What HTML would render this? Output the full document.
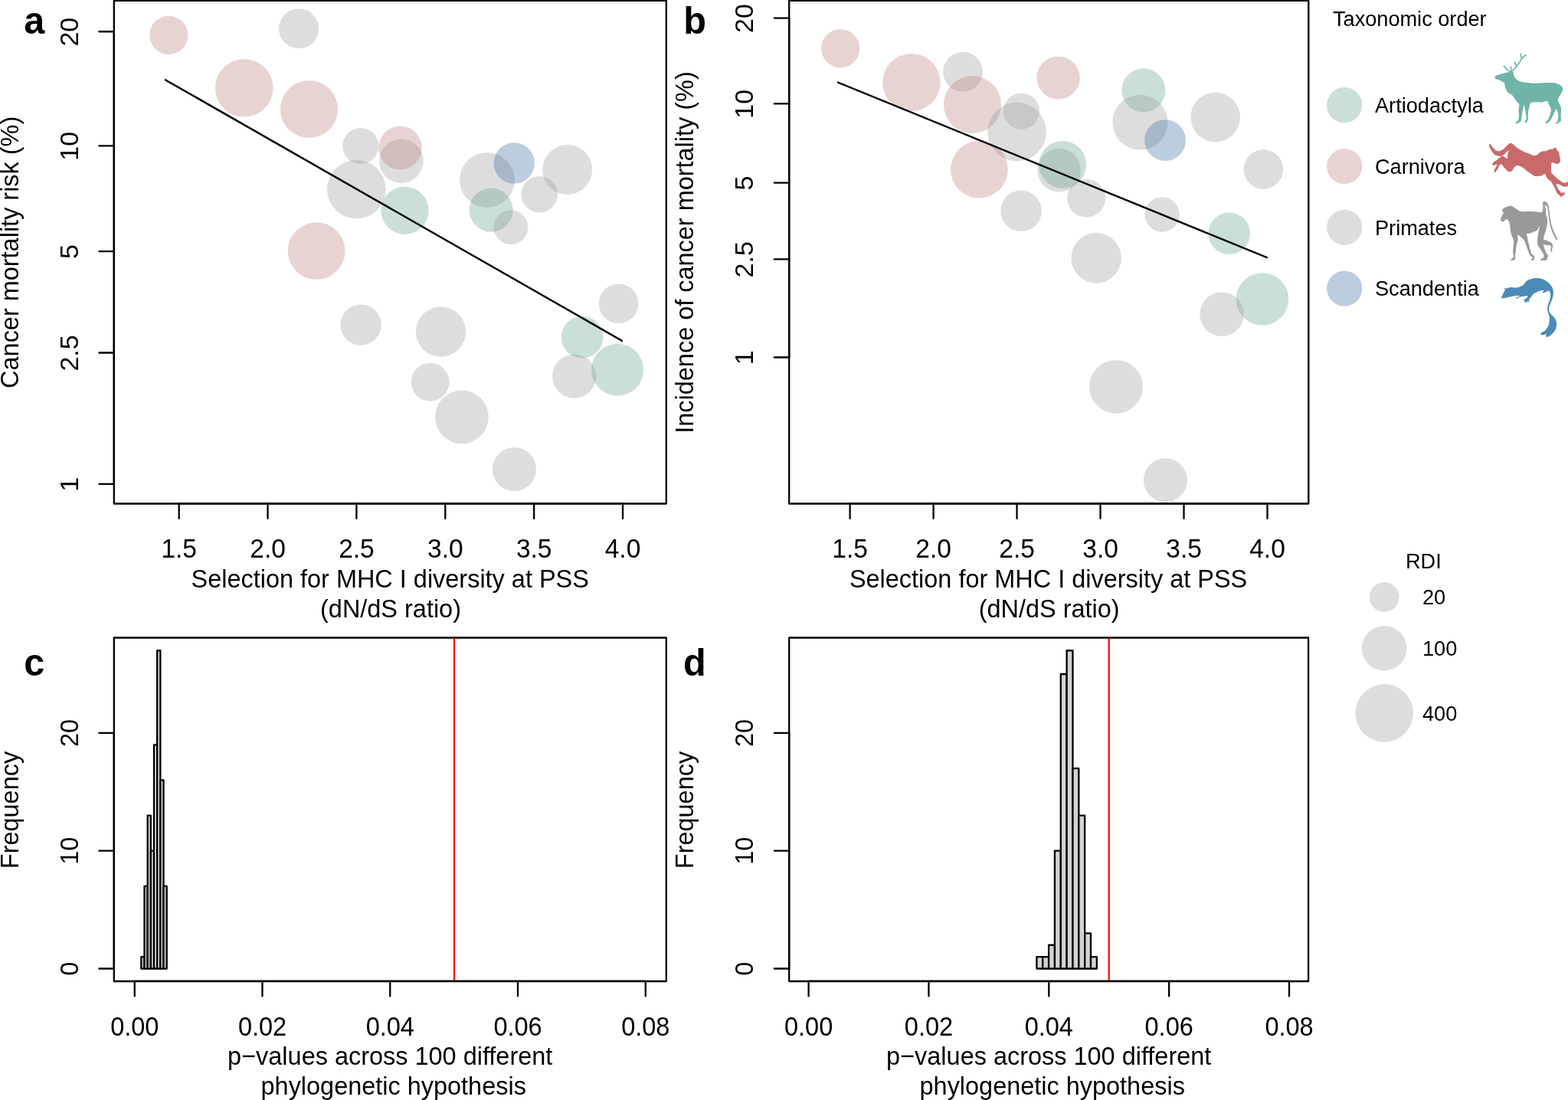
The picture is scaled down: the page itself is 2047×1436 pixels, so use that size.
<!DOCTYPE html>
<html lang="en"><head><meta charset="utf-8"><title>Figure: MHC I diversity and cancer mortality</title>
<style>html,body{margin:0;padding:0;background:#fff}body{width:2047px;height:1436px;overflow:hidden}svg{display:block}text{font-family:'Liberation Sans', Arial, Helvetica, sans-serif;fill:#000}</style>
</head><body>
<svg width="2047" height="1436" viewBox="0 0 2047 1436">
<rect width="2047" height="1436" fill="#fff"/>
<g>
<circle cx="220.35" cy="45.9" r="25.15" fill="rgb(190,128,128)" fill-opacity="0.35"/>
<circle cx="390.06" cy="37.3" r="26" fill="rgb(158,158,158)" fill-opacity="0.35"/>
<circle cx="318.8" cy="114.8" r="37.8" fill="rgb(190,128,128)" fill-opacity="0.35"/>
<circle cx="403.5" cy="142.6" r="37.6" fill="rgb(190,128,128)" fill-opacity="0.35"/>
<circle cx="470.8" cy="190.5" r="23.6" fill="rgb(158,158,158)" fill-opacity="0.35"/>
<circle cx="524" cy="210.2" r="28.75" fill="rgb(158,158,158)" fill-opacity="0.35"/>
<circle cx="522.5" cy="193" r="28.3" fill="rgb(190,128,128)" fill-opacity="0.35"/>
<circle cx="465.3" cy="247.1" r="38.25" fill="rgb(158,158,158)" fill-opacity="0.35"/>
<circle cx="528.5" cy="274.8" r="31.1" fill="rgb(104,164,144)" fill-opacity="0.35"/>
<circle cx="413.1" cy="327.6" r="37.4" fill="rgb(190,128,128)" fill-opacity="0.35"/>
<circle cx="635.9" cy="234.9" r="36" fill="rgb(158,158,158)" fill-opacity="0.35"/>
<circle cx="671.2" cy="213" r="26.7" fill="rgb(70,116,166)" fill-opacity="0.36"/>
<circle cx="641.15" cy="274.1" r="28.6" fill="rgb(104,164,144)" fill-opacity="0.35"/>
<circle cx="666.9" cy="296.65" r="22.45" fill="rgb(158,158,158)" fill-opacity="0.35"/>
<circle cx="704.3" cy="253.7" r="23.8" fill="rgb(158,158,158)" fill-opacity="0.35"/>
<circle cx="740.7" cy="221.5" r="32.4" fill="rgb(158,158,158)" fill-opacity="0.35"/>
<circle cx="471.1" cy="424.1" r="26.7" fill="rgb(158,158,158)" fill-opacity="0.35"/>
<circle cx="575.5" cy="433.05" r="32.65" fill="rgb(158,158,158)" fill-opacity="0.35"/>
<circle cx="561.6" cy="498.8" r="24.9" fill="rgb(158,158,158)" fill-opacity="0.35"/>
<circle cx="602.9" cy="544.4" r="34.9" fill="rgb(158,158,158)" fill-opacity="0.35"/>
<circle cx="671.4" cy="612.6" r="28.6" fill="rgb(158,158,158)" fill-opacity="0.35"/>
<circle cx="807.5" cy="396.3" r="25.8" fill="rgb(158,158,158)" fill-opacity="0.35"/>
<circle cx="760.1" cy="440.3" r="27.3" fill="rgb(104,164,144)" fill-opacity="0.35"/>
<circle cx="749.6" cy="491.1" r="28.6" fill="rgb(158,158,158)" fill-opacity="0.35"/>
<circle cx="806.1" cy="482.7" r="34" fill="rgb(104,164,144)" fill-opacity="0.35"/>
<polygon points="215.1,102.39 812.85,443.89 812.85,446.71 215.1,105.21" fill="#000"/>
<rect x="148.8" y="0.9" width="721" height="656.6" fill="none" stroke="#000" stroke-width="2.3" stroke-linejoin="round"/>
<line x1="233.7" y1="657.3" x2="813" y2="657.3" stroke="#000" stroke-width="2.3" stroke-linecap="round"/>
<line x1="148.8" y1="41.25" x2="148.8" y2="631.95" stroke="#000" stroke-width="2.3" stroke-linecap="round"/>
<line x1="233.7" y1="657.5" x2="233.7" y2="676.9" stroke="#000" stroke-width="2.3" stroke-linecap="round"/>
<text transform="translate(233.7 728) scale(1 1.04)" font-size="33.5" text-anchor="middle">1.5</text>
<line x1="349.56" y1="657.5" x2="349.56" y2="676.9" stroke="#000" stroke-width="2.3" stroke-linecap="round"/>
<text transform="translate(349.56 728) scale(1 1.04)" font-size="33.5" text-anchor="middle">2.0</text>
<line x1="465.42" y1="657.5" x2="465.42" y2="676.9" stroke="#000" stroke-width="2.3" stroke-linecap="round"/>
<text transform="translate(465.42 728) scale(1 1.04)" font-size="33.5" text-anchor="middle">2.5</text>
<line x1="581.28" y1="657.5" x2="581.28" y2="676.9" stroke="#000" stroke-width="2.3" stroke-linecap="round"/>
<text transform="translate(581.28 728) scale(1 1.04)" font-size="33.5" text-anchor="middle">3.0</text>
<line x1="697.14" y1="657.5" x2="697.14" y2="676.9" stroke="#000" stroke-width="2.3" stroke-linecap="round"/>
<text transform="translate(697.14 728) scale(1 1.04)" font-size="33.5" text-anchor="middle">3.5</text>
<line x1="813" y1="657.5" x2="813" y2="676.9" stroke="#000" stroke-width="2.3" stroke-linecap="round"/>
<text transform="translate(813 728) scale(1 1.04)" font-size="33.5" text-anchor="middle">4.0</text>
<line x1="129.4" y1="41.25" x2="148.8" y2="41.25" stroke="#000" stroke-width="2.3" stroke-linecap="round"/>
<text transform="translate(102.1 41.65) rotate(-90) scale(1 1.0)" font-size="34.1" text-anchor="middle">20</text>
<line x1="129.4" y1="190.4" x2="148.8" y2="190.4" stroke="#000" stroke-width="2.3" stroke-linecap="round"/>
<text transform="translate(102.1 190.8) rotate(-90) scale(1 1.0)" font-size="34.1" text-anchor="middle">10</text>
<line x1="129.4" y1="328.2" x2="148.8" y2="328.2" stroke="#000" stroke-width="2.3" stroke-linecap="round"/>
<text transform="translate(102.1 328.6) rotate(-90) scale(1 1.0)" font-size="34.1" text-anchor="middle">5</text>
<line x1="129.4" y1="460.5" x2="148.8" y2="460.5" stroke="#000" stroke-width="2.3" stroke-linecap="round"/>
<text transform="translate(102.1 460.9) rotate(-90) scale(1 1.0)" font-size="34.1" text-anchor="middle">2.5</text>
<line x1="129.4" y1="631.95" x2="148.8" y2="631.95" stroke="#000" stroke-width="2.3" stroke-linecap="round"/>
<text transform="translate(102.1 632.35) rotate(-90) scale(1 1.0)" font-size="34.1" text-anchor="middle">1</text>
<text transform="translate(509.2 767) scale(1 1.03)" font-size="32.45" text-anchor="middle">Selection for MHC I diversity at PSS</text>
<text transform="translate(510 806) scale(1 1.03)" font-size="32.45" text-anchor="middle">(dN/dS ratio)</text>
<text transform="translate(24.3 329.3) rotate(-90) scale(1 1.03)" font-size="32.45" text-anchor="middle">Cancer mortality risk (%)</text>
<text transform="translate(31.2 43.9) scale(1 1.02)" font-size="48.6" text-anchor="start" font-weight="bold">a</text>
</g>
<g>
<circle cx="1097.2" cy="63.3" r="25.15" fill="rgb(190,128,128)" fill-opacity="0.35"/>
<circle cx="1189.9" cy="107.7" r="37.7" fill="rgb(190,128,128)" fill-opacity="0.35"/>
<circle cx="1257.1" cy="93.65" r="25.9" fill="rgb(158,158,158)" fill-opacity="0.35"/>
<circle cx="1269.5" cy="136.6" r="37.55" fill="rgb(190,128,128)" fill-opacity="0.35"/>
<circle cx="1381.65" cy="101.6" r="28.1" fill="rgb(190,128,128)" fill-opacity="0.35"/>
<circle cx="1333.4" cy="145.3" r="23.6" fill="rgb(158,158,158)" fill-opacity="0.35"/>
<circle cx="1327.6" cy="172.1" r="38.3" fill="rgb(158,158,158)" fill-opacity="0.35"/>
<circle cx="1278.4" cy="221.2" r="37.4" fill="rgb(190,128,128)" fill-opacity="0.35"/>
<circle cx="1492.9" cy="117.85" r="28.6" fill="rgb(104,164,144)" fill-opacity="0.35"/>
<circle cx="1488.4" cy="159.8" r="36.05" fill="rgb(158,158,158)" fill-opacity="0.35"/>
<circle cx="1521.1" cy="183.1" r="26.9" fill="rgb(70,116,166)" fill-opacity="0.36"/>
<circle cx="1586.7" cy="153.1" r="32.35" fill="rgb(158,158,158)" fill-opacity="0.35"/>
<circle cx="1382.7" cy="222.3" r="28.4" fill="rgb(158,158,158)" fill-opacity="0.35"/>
<circle cx="1387.2" cy="214.9" r="31" fill="rgb(104,164,144)" fill-opacity="0.35"/>
<circle cx="1333.1" cy="275.2" r="26.8" fill="rgb(158,158,158)" fill-opacity="0.35"/>
<circle cx="1418.2" cy="258.7" r="25" fill="rgb(158,158,158)" fill-opacity="0.35"/>
<circle cx="1517.1" cy="280" r="22.7" fill="rgb(158,158,158)" fill-opacity="0.35"/>
<circle cx="1649.45" cy="221.1" r="25.8" fill="rgb(158,158,158)" fill-opacity="0.35"/>
<circle cx="1604.8" cy="304.7" r="27.3" fill="rgb(104,164,144)" fill-opacity="0.35"/>
<circle cx="1431.2" cy="336.9" r="32.8" fill="rgb(158,158,158)" fill-opacity="0.35"/>
<circle cx="1648" cy="390.5" r="34.3" fill="rgb(104,164,144)" fill-opacity="0.35"/>
<circle cx="1595.1" cy="410.2" r="28.8" fill="rgb(158,158,158)" fill-opacity="0.35"/>
<circle cx="1457.05" cy="504.9" r="34.9" fill="rgb(158,158,158)" fill-opacity="0.35"/>
<circle cx="1521.4" cy="626.9" r="28.6" fill="rgb(158,158,158)" fill-opacity="0.35"/>
<polygon points="1093.1,105.98 1654.8,335.18 1654.8,337.82 1093.1,108.62" fill="#000"/>
<rect x="1030.2" y="0.9" width="678.1" height="656.6" fill="none" stroke="#000" stroke-width="2.3" stroke-linejoin="round"/>
<line x1="1109.6" y1="657.3" x2="1654.5" y2="657.3" stroke="#000" stroke-width="2.3" stroke-linecap="round"/>
<line x1="1030.2" y1="23.6" x2="1030.2" y2="466.5" stroke="#000" stroke-width="2.3" stroke-linecap="round"/>
<line x1="1109.6" y1="657.5" x2="1109.6" y2="676.9" stroke="#000" stroke-width="2.3" stroke-linecap="round"/>
<text transform="translate(1109.6 728) scale(1 1.04)" font-size="33.5" text-anchor="middle">1.5</text>
<line x1="1218.58" y1="657.5" x2="1218.58" y2="676.9" stroke="#000" stroke-width="2.3" stroke-linecap="round"/>
<text transform="translate(1218.58 728) scale(1 1.04)" font-size="33.5" text-anchor="middle">2.0</text>
<line x1="1327.56" y1="657.5" x2="1327.56" y2="676.9" stroke="#000" stroke-width="2.3" stroke-linecap="round"/>
<text transform="translate(1327.56 728) scale(1 1.04)" font-size="33.5" text-anchor="middle">2.5</text>
<line x1="1436.54" y1="657.5" x2="1436.54" y2="676.9" stroke="#000" stroke-width="2.3" stroke-linecap="round"/>
<text transform="translate(1436.54 728) scale(1 1.04)" font-size="33.5" text-anchor="middle">3.0</text>
<line x1="1545.52" y1="657.5" x2="1545.52" y2="676.9" stroke="#000" stroke-width="2.3" stroke-linecap="round"/>
<text transform="translate(1545.52 728) scale(1 1.04)" font-size="33.5" text-anchor="middle">3.5</text>
<line x1="1654.5" y1="657.5" x2="1654.5" y2="676.9" stroke="#000" stroke-width="2.3" stroke-linecap="round"/>
<text transform="translate(1654.5 728) scale(1 1.04)" font-size="33.5" text-anchor="middle">4.0</text>
<line x1="1010.8" y1="23.6" x2="1030.2" y2="23.6" stroke="#000" stroke-width="2.3" stroke-linecap="round"/>
<text transform="translate(983.1 24) rotate(-90) scale(1 1.0)" font-size="34.1" text-anchor="middle">20</text>
<line x1="1010.8" y1="135.4" x2="1030.2" y2="135.4" stroke="#000" stroke-width="2.3" stroke-linecap="round"/>
<text transform="translate(983.1 135.8) rotate(-90) scale(1 1.0)" font-size="34.1" text-anchor="middle">10</text>
<line x1="1010.8" y1="238.6" x2="1030.2" y2="238.6" stroke="#000" stroke-width="2.3" stroke-linecap="round"/>
<text transform="translate(983.1 239) rotate(-90) scale(1 1.0)" font-size="34.1" text-anchor="middle">5</text>
<line x1="1010.8" y1="338.4" x2="1030.2" y2="338.4" stroke="#000" stroke-width="2.3" stroke-linecap="round"/>
<text transform="translate(983.1 338.8) rotate(-90) scale(1 1.0)" font-size="34.1" text-anchor="middle">2.5</text>
<line x1="1010.8" y1="466.5" x2="1030.2" y2="466.5" stroke="#000" stroke-width="2.3" stroke-linecap="round"/>
<text transform="translate(983.1 466.9) rotate(-90) scale(1 1.0)" font-size="34.1" text-anchor="middle">1</text>
<text transform="translate(1368.6 767) scale(1 1.03)" font-size="32.45" text-anchor="middle">Selection for MHC I diversity at PSS</text>
<text transform="translate(1369.6 806) scale(1 1.03)" font-size="32.45" text-anchor="middle">(dN/dS ratio)</text>
<text transform="translate(905.3 329.5) rotate(-90) scale(1 1.03)" font-size="32.45" text-anchor="middle">Incidence of cancer mortality (%)</text>
<text transform="translate(892.2 43.6) scale(1 1.02)" font-size="48.6" text-anchor="start" font-weight="bold">b</text>
</g>
<g>
<rect x="184.34" y="1249.12" width="4.17" height="15.38" fill="#D3D3D3" stroke="#000" stroke-width="2.3" stroke-linejoin="round"/>
<rect x="188.51" y="1156.84" width="4.17" height="107.66" fill="#D3D3D3" stroke="#000" stroke-width="2.3" stroke-linejoin="round"/>
<rect x="192.68" y="1064.56" width="4.17" height="199.94" fill="#D3D3D3" stroke="#000" stroke-width="2.3" stroke-linejoin="round"/>
<rect x="196.84" y="1110.7" width="4.17" height="153.8" fill="#D3D3D3" stroke="#000" stroke-width="2.3" stroke-linejoin="round"/>
<rect x="201.01" y="972.28" width="4.17" height="292.22" fill="#D3D3D3" stroke="#000" stroke-width="2.3" stroke-linejoin="round"/>
<rect x="205.18" y="849.24" width="4.17" height="415.26" fill="#D3D3D3" stroke="#000" stroke-width="2.3" stroke-linejoin="round"/>
<rect x="209.35" y="1018.42" width="4.17" height="246.08" fill="#D3D3D3" stroke="#000" stroke-width="2.3" stroke-linejoin="round"/>
<rect x="213.52" y="1156.84" width="4.17" height="107.66" fill="#D3D3D3" stroke="#000" stroke-width="2.3" stroke-linejoin="round"/>
<rect x="148.8" y="832.5" width="721" height="448.5" fill="none" stroke="#000" stroke-width="2.3" stroke-linejoin="round"/>
<line x1="593" y1="832.5" x2="593" y2="1281" stroke="#FF0000" stroke-width="2.2" stroke-linecap="butt"/>
<line x1="175.75" y1="1280.8" x2="842.75" y2="1280.8" stroke="#000" stroke-width="2.3" stroke-linecap="round"/>
<line x1="148.8" y1="956.9" x2="148.8" y2="1264.5" stroke="#000" stroke-width="2.3" stroke-linecap="round"/>
<line x1="175.75" y1="1281" x2="175.75" y2="1300.4" stroke="#000" stroke-width="2.3" stroke-linecap="round"/>
<text transform="translate(175.75 1351.5) scale(1 1.07)" font-size="32.5" text-anchor="middle">0.00</text>
<line x1="342.5" y1="1281" x2="342.5" y2="1300.4" stroke="#000" stroke-width="2.3" stroke-linecap="round"/>
<text transform="translate(342.5 1351.5) scale(1 1.07)" font-size="32.5" text-anchor="middle">0.02</text>
<line x1="509.25" y1="1281" x2="509.25" y2="1300.4" stroke="#000" stroke-width="2.3" stroke-linecap="round"/>
<text transform="translate(509.25 1351.5) scale(1 1.07)" font-size="32.5" text-anchor="middle">0.04</text>
<line x1="676" y1="1281" x2="676" y2="1300.4" stroke="#000" stroke-width="2.3" stroke-linecap="round"/>
<text transform="translate(676 1351.5) scale(1 1.07)" font-size="32.5" text-anchor="middle">0.06</text>
<line x1="842.75" y1="1281" x2="842.75" y2="1300.4" stroke="#000" stroke-width="2.3" stroke-linecap="round"/>
<text transform="translate(842.75 1351.5) scale(1 1.07)" font-size="32.5" text-anchor="middle">0.08</text>
<line x1="129.4" y1="1264.5" x2="148.8" y2="1264.5" stroke="#000" stroke-width="2.3" stroke-linecap="round"/>
<text transform="translate(102.1 1264.6) rotate(-90) scale(1 1.04)" font-size="32.5" text-anchor="middle">0</text>
<line x1="129.4" y1="1110.7" x2="148.8" y2="1110.7" stroke="#000" stroke-width="2.3" stroke-linecap="round"/>
<text transform="translate(102.1 1110.8) rotate(-90) scale(1 1.04)" font-size="32.5" text-anchor="middle">10</text>
<line x1="129.4" y1="956.9" x2="148.8" y2="956.9" stroke="#000" stroke-width="2.3" stroke-linecap="round"/>
<text transform="translate(102.1 957) rotate(-90) scale(1 1.04)" font-size="32.5" text-anchor="middle">20</text>
<text transform="translate(509.2 1390) scale(1 1.03)" font-size="32.45" text-anchor="middle">p−values across 100 different</text>
<text transform="translate(513.7 1429) scale(1 1.03)" font-size="32.45" text-anchor="middle">phylogenetic hypothesis</text>
<text transform="translate(24.3 1057.5) rotate(-90) scale(1 1.03)" font-size="32.45" text-anchor="middle">Frequency</text>
<text transform="translate(31.2 881.8) scale(1 1.02)" font-size="48.6" text-anchor="start" font-weight="bold">c</text>
</g>
<g>
<rect x="1353.41" y="1249.12" width="7.84" height="15.38" fill="#D3D3D3" stroke="#000" stroke-width="2.3" stroke-linejoin="round"/>
<rect x="1361.26" y="1249.12" width="7.84" height="15.38" fill="#D3D3D3" stroke="#000" stroke-width="2.3" stroke-linejoin="round"/>
<rect x="1369.1" y="1233.74" width="7.84" height="30.76" fill="#D3D3D3" stroke="#000" stroke-width="2.3" stroke-linejoin="round"/>
<rect x="1376.94" y="1110.7" width="7.84" height="153.8" fill="#D3D3D3" stroke="#000" stroke-width="2.3" stroke-linejoin="round"/>
<rect x="1384.79" y="880" width="7.84" height="384.5" fill="#D3D3D3" stroke="#000" stroke-width="2.3" stroke-linejoin="round"/>
<rect x="1392.63" y="849.24" width="7.84" height="415.26" fill="#D3D3D3" stroke="#000" stroke-width="2.3" stroke-linejoin="round"/>
<rect x="1400.47" y="1003.04" width="7.84" height="261.46" fill="#D3D3D3" stroke="#000" stroke-width="2.3" stroke-linejoin="round"/>
<rect x="1408.31" y="1064.56" width="7.84" height="199.94" fill="#D3D3D3" stroke="#000" stroke-width="2.3" stroke-linejoin="round"/>
<rect x="1416.16" y="1218.36" width="7.84" height="46.14" fill="#D3D3D3" stroke="#000" stroke-width="2.3" stroke-linejoin="round"/>
<rect x="1424" y="1249.12" width="7.84" height="15.38" fill="#D3D3D3" stroke="#000" stroke-width="2.3" stroke-linejoin="round"/>
<rect x="1030.2" y="832.5" width="677.9" height="448.5" fill="none" stroke="#000" stroke-width="2.3" stroke-linejoin="round"/>
<line x1="1447.7" y1="832.5" x2="1447.7" y2="1281" stroke="#FF0000" stroke-width="2.2" stroke-linecap="butt"/>
<line x1="1055.6" y1="1280.8" x2="1683" y2="1280.8" stroke="#000" stroke-width="2.3" stroke-linecap="round"/>
<line x1="1030.2" y1="956.9" x2="1030.2" y2="1264.5" stroke="#000" stroke-width="2.3" stroke-linecap="round"/>
<line x1="1055.6" y1="1281" x2="1055.6" y2="1300.4" stroke="#000" stroke-width="2.3" stroke-linecap="round"/>
<text transform="translate(1055.6 1351.5) scale(1 1.07)" font-size="32.5" text-anchor="middle">0.00</text>
<line x1="1212.45" y1="1281" x2="1212.45" y2="1300.4" stroke="#000" stroke-width="2.3" stroke-linecap="round"/>
<text transform="translate(1212.45 1351.5) scale(1 1.07)" font-size="32.5" text-anchor="middle">0.02</text>
<line x1="1369.3" y1="1281" x2="1369.3" y2="1300.4" stroke="#000" stroke-width="2.3" stroke-linecap="round"/>
<text transform="translate(1369.3 1351.5) scale(1 1.07)" font-size="32.5" text-anchor="middle">0.04</text>
<line x1="1526.15" y1="1281" x2="1526.15" y2="1300.4" stroke="#000" stroke-width="2.3" stroke-linecap="round"/>
<text transform="translate(1526.15 1351.5) scale(1 1.07)" font-size="32.5" text-anchor="middle">0.06</text>
<line x1="1683" y1="1281" x2="1683" y2="1300.4" stroke="#000" stroke-width="2.3" stroke-linecap="round"/>
<text transform="translate(1683 1351.5) scale(1 1.07)" font-size="32.5" text-anchor="middle">0.08</text>
<line x1="1010.8" y1="1264.5" x2="1030.2" y2="1264.5" stroke="#000" stroke-width="2.3" stroke-linecap="round"/>
<text transform="translate(983.1 1264.6) rotate(-90) scale(1 1.04)" font-size="32.5" text-anchor="middle">0</text>
<line x1="1010.8" y1="1110.7" x2="1030.2" y2="1110.7" stroke="#000" stroke-width="2.3" stroke-linecap="round"/>
<text transform="translate(983.1 1110.8) rotate(-90) scale(1 1.04)" font-size="32.5" text-anchor="middle">10</text>
<line x1="1010.8" y1="956.9" x2="1030.2" y2="956.9" stroke="#000" stroke-width="2.3" stroke-linecap="round"/>
<text transform="translate(983.1 957) rotate(-90) scale(1 1.04)" font-size="32.5" text-anchor="middle">20</text>
<text transform="translate(1369.2 1390) scale(1 1.03)" font-size="32.45" text-anchor="middle">p−values across 100 different</text>
<text transform="translate(1373.7 1429) scale(1 1.03)" font-size="32.45" text-anchor="middle">phylogenetic hypothesis</text>
<text transform="translate(905.3 1057.5) rotate(-90) scale(1 1.03)" font-size="32.45" text-anchor="middle">Frequency</text>
<text transform="translate(892 881.6) scale(1 1.02)" font-size="48.6" text-anchor="start" font-weight="bold">d</text>
</g>
<g>
<text transform="translate(1740 34) scale(1 1.03)" font-size="27.15" text-anchor="start">Taxonomic order</text>
<circle cx="1755.2" cy="137.2" r="23.15" fill="rgb(104,164,144)" fill-opacity="0.35"/>
<text transform="translate(1795 147) scale(1 1.03)" font-size="27.15" text-anchor="start">Artiodactyla</text>
<circle cx="1755.2" cy="217.1" r="23.15" fill="rgb(190,128,128)" fill-opacity="0.35"/>
<text transform="translate(1795 227) scale(1 1.03)" font-size="27.15" text-anchor="start">Carnivora</text>
<circle cx="1755.2" cy="296.9" r="23.15" fill="rgb(158,158,158)" fill-opacity="0.35"/>
<text transform="translate(1795 307) scale(1 1.03)" font-size="27.15" text-anchor="start">Primates</text>
<circle cx="1755.2" cy="376.6" r="23.15" fill="rgb(70,116,166)" fill-opacity="0.36"/>
<text transform="translate(1795 386) scale(1 1.03)" font-size="27.15" text-anchor="start">Scandentia</text>
<text transform="translate(1835 742) scale(1 1.03)" font-size="27.15" text-anchor="start">RDI</text>
<circle cx="1807.2" cy="779.5" r="19.4" fill="rgb(158,158,158)" fill-opacity="0.35"/>
<text transform="translate(1857 789) scale(1 1.03)" font-size="27.15" text-anchor="start">20</text>
<circle cx="1807.2" cy="846.2" r="29.3" fill="rgb(158,158,158)" fill-opacity="0.35"/>
<text transform="translate(1857 856) scale(1 1.03)" font-size="27.15" text-anchor="start">100</text>
<circle cx="1807.2" cy="930.9" r="37.8" fill="rgb(158,158,158)" fill-opacity="0.35"/>
<text transform="translate(1857 941) scale(1 1.03)" font-size="27.15" text-anchor="start">400</text>
</g>
<g>
<g fill="#6EB4A7" stroke="none">
<path d="M1951.64 99.38C1952.38 98.79 1954.65 97.97 1956.47 97.39C1958.28 96.8 1961.08 96.15 1962.98 95.7C1964.88 95.25 1967.05 94.92 1968.34 94.55C1969.63 94.18 1969.98 93.65 1971.02 93.4C1972.06 93.16 1974.11 92.65 1974.85 93.02C1975.58 93.39 1975.31 94.66 1975.62 95.7C1975.92 96.74 1976.21 98.37 1976.76 99.53C1977.32 100.69 1978.08 102 1979.06 102.98C1980.04 103.96 1981.3 104.96 1982.89 105.66C1984.49 106.36 1987.06 106.95 1989.02 107.34C1990.98 107.74 1993.19 107.86 1995.15 108.11C1997.11 108.35 1999.31 108.78 2001.27 108.87C2003.23 108.97 2005.44 108.83 2007.4 108.72C2009.36 108.61 2011.32 108.31 2013.53 108.19C2015.73 108.06 2018.86 107.97 2021.19 107.96C2023.52 107.94 2026.12 107.86 2028.08 108.11C2030.04 108.35 2031.91 108.9 2033.44 109.49C2034.97 110.08 2036.64 110.99 2037.66 111.79C2038.67 112.58 2039.43 113.42 2039.8 114.47C2040.17 115.51 2040.3 117.01 2039.95 118.3C2039.61 119.58 2038.45 121.1 2037.66 122.51C2036.86 123.92 2035.59 125.82 2034.97 127.1C2034.36 128.39 2033.76 129.32 2033.83 130.55C2033.89 131.78 2034.75 133.35 2035.36 134.76C2035.97 136.17 2037.23 137.77 2037.66 139.36C2038.08 140.95 2038.04 142.64 2038.04 144.72C2038.04 146.8 2037.68 150.3 2037.66 152.38C2037.63 154.46 2038.07 156.7 2037.89 157.74C2037.7 158.78 2037.03 158.52 2036.51 158.89C2035.98 159.26 2035.14 159.61 2034.59 160.04C2034.04 160.47 2033.67 161.33 2033.06 161.57C2032.45 161.82 2030.76 162.06 2030.76 161.57C2030.76 161.08 2032.53 159.73 2033.06 158.51C2033.59 157.28 2033.93 155.63 2034.06 153.91C2034.18 152.2 2034.23 149.62 2033.83 147.78C2033.42 145.95 2032.32 142.42 2031.53 142.42C2030.73 142.42 2029.77 145.95 2028.85 147.78C2027.93 149.62 2026.7 152.26 2025.78 153.91C2024.86 155.57 2023.84 157.14 2023.1 158.12C2022.37 159.1 2021.74 159.61 2021.19 160.04C2020.64 160.47 2020.33 160.74 2019.66 160.8C2018.98 160.87 2016.98 160.91 2016.98 160.42C2016.98 159.93 2018.8 158.91 2019.66 157.74C2020.51 156.58 2021.6 154.86 2022.34 153.15C2023.07 151.43 2023.82 148.61 2024.25 147.02C2024.68 145.42 2025.2 144.54 2025.02 143.19C2024.83 141.84 2023.72 140 2023.1 138.59C2022.49 137.18 2021.68 135.46 2021.19 134.38C2020.7 133.3 2020.77 132.18 2020.04 131.85C2019.3 131.52 2017.63 132.03 2016.59 132.31C2015.55 132.59 2014.75 133.47 2013.53 133.61C2012.3 133.76 2010.53 133.29 2008.93 133.23C2007.34 133.17 2005.04 133.13 2003.57 133.23C2002.1 133.33 2000.66 133.66 1999.74 133.84C1998.82 134.03 1998.26 133.74 1997.83 134.38C1997.4 135.02 1997.43 136.42 1997.06 137.83C1996.69 139.24 1995.86 141.47 1995.53 143.19C1995.2 144.9 1995.12 146.83 1994.99 148.55C1994.87 150.27 1994.84 152.5 1994.76 153.91C1994.69 155.32 1994.72 156.56 1994.53 157.36C1994.35 158.15 1994.01 158.49 1993.61 158.89C1993.22 159.29 1992.63 159.76 1992.08 159.89C1991.53 160.01 1990.23 160.12 1990.17 159.66C1990.11 159.19 1991.33 157.89 1991.7 156.97C1992.07 156.06 1992.43 155.26 1992.47 153.91C1992.5 152.56 1992.17 150.27 1991.93 148.55C1991.68 146.83 1991.28 144.9 1990.93 143.19C1990.59 141.47 1990.09 138.68 1989.79 137.83C1989.48 136.97 1989.26 137.09 1989.02 137.83C1988.77 138.56 1988.56 140.71 1988.25 142.42C1987.95 144.14 1987.41 146.71 1987.1 148.55C1986.8 150.39 1986.55 152.38 1986.34 153.91C1986.13 155.44 1986.17 157.27 1985.8 158.12C1985.43 158.98 1984.69 158.87 1984.04 159.27C1983.39 159.68 1982.66 160.41 1981.74 160.65C1980.82 160.9 1978.48 161.21 1978.3 160.8C1978.11 160.4 1979.92 158.98 1980.59 158.12C1981.27 157.27 1982.14 156.73 1982.51 155.44C1982.88 154.16 1982.89 151.8 1982.89 150.08C1982.89 148.37 1982.48 146.44 1982.51 144.72C1982.53 143 1982.92 140.77 1983.05 139.36C1983.17 137.95 1983.67 136.89 1983.27 135.91C1982.88 134.93 1981.45 134.27 1980.59 133.23C1979.74 132.19 1978.71 130.57 1977.91 129.4C1977.12 128.24 1976.41 126.94 1975.62 125.95C1974.82 124.97 1973.85 123.95 1972.93 123.27C1972.02 122.6 1970.79 122.42 1969.87 121.74C1968.95 121.07 1967.86 120.04 1967.19 119.06C1966.52 118.08 1966.09 116.78 1965.66 115.61C1965.23 114.45 1964.75 112.89 1964.51 111.79C1964.26 110.68 1964.49 109.46 1964.13 108.72C1963.76 107.99 1963.01 107.74 1962.21 107.19C1961.42 106.64 1960.07 105.77 1959.15 105.27C1958.23 104.78 1957.51 104.43 1956.47 104.13C1955.43 103.82 1953.37 103.85 1952.64 103.36C1951.9 102.87 1952.03 101.7 1951.87 101.06C1951.71 100.43 1950.91 99.97 1951.64 99.38Z"/>
</g>
<g fill="none" stroke="#6EB4A7" stroke-width="1.7" stroke-linecap="round">
<path d="M1972.55 93.02C1973.23 92.59 1975.6 91.38 1976.76 90.34C1977.93 89.3 1978.85 87.74 1979.83 86.51C1980.81 85.28 1981.97 83.97 1982.89 82.68C1983.81 81.39 1984.84 79.57 1985.57 78.47C1986.31 77.36 1986.81 76.58 1987.49 75.79C1988.16 74.99 1989.07 74.16 1989.79 73.49C1990.5 72.81 1991.59 71.88 1991.93 71.57"/>
<path d="M1979.83 86.13C1979.64 85.76 1979.11 84.63 1978.68 83.83C1978.25 83.03 1977.39 81.58 1977.15 81.15"/>
<path d="M1986.49 76.17C1986.38 75.74 1985.99 74.47 1985.8 73.49C1985.62 72.51 1985.42 70.59 1985.34 70.04"/>
<path d="M1973.32 92.25C1973.23 91.89 1972.97 90.75 1972.78 89.96C1972.6 89.16 1972.27 87.7 1972.17 87.28"/>
<path d="M1971.4 93.56C1970.67 93.04 1967.91 91.28 1966.81 90.34C1965.7 89.4 1965.06 88.33 1964.51 87.66C1963.96 86.98 1963.54 86.37 1963.36 86.13"/>
</g>
<g fill="#C96A6A" stroke="none">
<path d="M1969.4 188.23C1969.96 186.82 1971.98 186.93 1973.04 187.04C1974.1 187.15 1974.9 188.01 1976.02 188.89C1977.13 189.77 1978.61 191.47 1979.99 192.53C1981.36 193.59 1983.03 194.61 1984.62 195.51C1986.2 196.41 1988.32 197.43 1989.91 198.15C1991.5 198.87 1993.16 199.48 1994.54 200.01C1995.92 200.54 1997.45 201.02 1998.51 201.46C1999.57 201.91 2000.1 202.55 2001.15 202.78C2002.21 203.02 2004.07 203.18 2005.12 202.92C2006.18 202.65 2006.82 201.84 2007.77 201.13C2008.72 200.42 2010.02 199.09 2011.08 198.48C2012.14 197.88 2013.22 197.57 2014.39 197.36C2015.55 197.15 2017.08 197.51 2018.35 197.16C2019.63 196.81 2020.95 195.6 2022.32 195.18C2023.7 194.75 2025.9 194.83 2026.96 194.52C2028.01 194.2 2028.2 193.44 2028.94 193.19C2029.68 192.95 2031.06 192.62 2031.59 192.99C2032.12 193.36 2031.82 194.79 2032.25 195.51C2032.67 196.23 2033.7 196.75 2034.23 197.49C2034.76 198.23 2035.29 199.08 2035.56 200.14C2035.82 201.2 2035.67 202.94 2035.89 204.11C2036.1 205.27 2036.74 206.36 2036.88 207.42C2037.02 208.47 2037.06 209.77 2036.75 210.72C2036.43 211.68 2035.61 212.86 2034.89 213.37C2034.17 213.88 2033.2 213.95 2032.25 213.9C2031.29 213.85 2029.89 213.34 2028.94 213.04C2027.99 212.74 2026.91 211.78 2026.29 212.05C2025.68 212.31 2025.31 213.42 2025.1 214.69C2024.89 215.96 2024.94 218.29 2024.97 219.99C2025 221.68 2024.88 224.01 2025.3 225.28C2025.72 226.55 2026.72 226.97 2027.62 227.92C2028.52 228.88 2029.76 230.17 2030.92 231.23C2032.09 232.29 2033.62 233.53 2034.89 234.54C2036.16 235.54 2037.7 236.83 2038.86 237.52C2040.03 238.2 2041.22 238.73 2042.17 238.84C2043.12 238.95 2043.97 238.53 2044.82 238.18C2045.66 237.83 2046.83 236.92 2047.46 236.66C2048.1 236.39 2048.57 235.54 2048.79 236.52C2049 237.51 2049 241.86 2048.79 242.81C2048.57 243.76 2048.2 242.32 2047.46 242.48C2046.72 242.64 2045.21 243.64 2044.16 243.8C2043.1 243.96 2041.91 243.79 2040.85 243.47C2039.79 243.15 2038.6 242.35 2037.54 241.82C2036.48 241.29 2035.18 240.37 2034.23 240.16C2033.28 239.95 2031.8 239.91 2031.59 240.49C2031.37 241.08 2032.38 242.64 2032.91 243.8C2033.44 244.97 2034.21 246.71 2034.89 247.77C2035.58 248.83 2036.68 249.73 2037.21 250.42C2037.74 251.1 2037.62 251.96 2038.2 252.07C2038.78 252.18 2040.16 251.13 2040.85 251.08C2041.54 251.03 2042.18 251.32 2042.5 251.74C2042.82 252.16 2043.1 253.19 2042.83 253.72C2042.57 254.25 2041.43 254.68 2040.85 255.05C2040.27 255.42 2039.72 255.72 2039.19 256.04C2038.66 256.36 2038.12 257.3 2037.54 257.03C2036.96 256.77 2036.19 254.97 2035.56 254.39C2034.92 253.8 2034.21 254.13 2033.57 253.39C2032.94 252.65 2032.22 251.08 2031.59 249.75C2030.95 248.43 2030.34 246.61 2029.6 245.12C2028.86 243.64 2027.8 241.87 2026.96 240.49C2026.11 239.12 2025.26 237.58 2024.31 236.52C2023.36 235.47 2021.85 234.72 2021 233.88C2020.15 233.03 2019.55 232.18 2019.02 231.23C2018.49 230.28 2018.17 228.61 2017.69 227.92C2017.22 227.24 2016.78 226.72 2016.04 226.93C2015.3 227.14 2014.28 228.77 2013.06 229.25C2011.85 229.72 2009.91 229.8 2008.43 229.91C2006.95 230.01 2005.18 230.28 2003.8 229.91C2002.42 229.54 2001.21 228.44 1999.83 227.59C1998.46 226.75 1996.58 225.62 1995.2 224.62C1993.82 223.61 1992.4 222.26 1991.23 221.31C1990.07 220.36 1989.09 219.4 1987.92 218.66C1986.76 217.92 1985.12 217.1 1983.95 216.68C1982.79 216.25 1981.6 215.91 1980.65 216.02C1979.69 216.12 1978.74 216.7 1978 217.34C1977.26 217.97 1976.65 219.14 1976.02 219.99C1975.38 220.83 1974.67 222 1974.03 222.63C1973.4 223.27 1972.79 223.74 1972.05 223.95C1971.31 224.17 1970.25 224.27 1969.4 223.95C1968.55 223.64 1967.6 222.76 1966.75 221.97C1965.91 221.18 1964.95 219.95 1964.11 218.99C1963.26 218.04 1962.2 216.81 1961.46 216.02C1960.72 215.22 1960.11 214.03 1959.48 214.03C1958.84 214.03 1958.13 215.06 1957.49 216.02C1956.86 216.97 1956.14 218.82 1955.51 219.99C1954.87 221.15 1954.11 222.5 1953.52 223.29C1952.94 224.09 1952.35 224.79 1951.87 224.95C1951.39 225.11 1950.65 224.87 1950.55 224.29C1950.44 223.7 1950.84 222.31 1951.21 221.31C1951.58 220.3 1952.33 219.06 1952.86 218C1953.39 216.94 1954.83 215.06 1954.52 214.69C1954.2 214.32 1951.83 215.58 1950.88 215.69C1949.92 215.79 1949.02 215.67 1948.56 215.35C1948.11 215.04 1947.77 214.34 1948.03 213.7C1948.3 213.07 1949.23 212.18 1950.22 211.39C1951.2 210.59 1953.02 209.59 1954.18 208.74C1955.35 207.89 1956.54 206.83 1957.49 206.09C1958.45 205.35 1959.29 204.43 1960.14 204.11C1960.99 203.79 1961.83 203.74 1962.78 204.11C1963.74 204.48 1965.33 205.95 1966.09 206.42C1966.85 206.9 1967.23 207.67 1967.55 207.09C1967.87 206.5 1967.87 204.11 1968.08 202.78C1968.29 201.46 1968.64 199.93 1968.87 198.82C1969.1 197.7 1969.45 197.53 1969.53 195.84C1969.62 194.15 1968.84 189.64 1969.4 188.23Z"/>
<path d="M1944.26 188.23C1944.49 187.75 1944.95 187.7 1945.58 188.23C1946.22 188.76 1947.28 190.43 1948.23 191.54C1949.18 192.65 1950.48 194.28 1951.54 195.18C1952.6 196.08 1953.68 196.9 1954.85 197.16C1956.01 197.43 1957.55 197.25 1958.82 196.83C1960.09 196.41 1961.62 195.42 1962.78 194.52C1963.95 193.62 1965.03 192.21 1966.09 191.21C1967.15 190.2 1968.45 188.76 1969.4 188.23C1970.35 187.7 1971.83 186.84 1972.05 187.9C1972.26 188.96 1971.15 193.5 1970.72 194.85C1970.3 196.19 1970.04 195.72 1969.4 196.3C1968.77 196.88 1967.6 197.71 1966.75 198.48C1965.91 199.26 1964.95 200.36 1964.11 201.13C1963.26 201.9 1962.52 202.87 1961.46 203.31C1960.4 203.76 1958.76 203.94 1957.49 203.91C1956.22 203.88 1954.79 203.72 1953.52 203.12C1952.25 202.51 1950.72 201.36 1949.55 200.14C1948.39 198.92 1947.11 196.94 1946.25 195.51C1945.38 194.08 1944.45 192.37 1944.13 191.21C1943.81 190.04 1944.03 188.71 1944.26 188.23Z"/>
</g>
<g fill="#999999" stroke="none">
<path d="M1959.22 286.09C1959.36 285.46 1959.51 284.4 1959.89 283.45C1960.26 282.49 1961.06 281.09 1961.54 280.14C1962.02 279.19 1962.92 278.23 1962.86 277.49C1962.81 276.75 1961.42 276.2 1961.21 275.51C1961 274.82 1961.06 273.88 1961.54 273.19C1962.02 272.5 1963.23 271.77 1964.19 271.21C1965.14 270.65 1966.43 270.06 1967.49 269.69C1968.55 269.32 1969.74 268.97 1970.8 268.89C1971.86 268.82 1973.05 268.85 1974.11 269.22C1975.17 269.59 1976.36 270.52 1977.42 271.21C1978.47 271.9 1979.56 272.78 1980.72 273.52C1981.89 274.26 1983.21 275.42 1984.69 275.84C1986.18 276.26 1988.29 276.14 1989.99 276.17C1991.68 276.2 1993.48 276.06 1995.28 276.04C1997.08 276.02 1999.33 275.91 2001.23 276.04C2003.14 276.16 2005.6 276.65 2007.19 276.83C2008.77 277.01 2010.2 277.16 2011.16 277.16C2012.11 277.16 2012.66 277.41 2013.14 276.83C2013.62 276.25 2013.92 274.69 2014.13 273.52C2014.34 272.36 2014.5 270.82 2014.46 269.55C2014.43 268.28 2013.88 266.54 2013.93 265.58C2013.99 264.63 2014.34 264.02 2014.79 263.6C2015.25 263.18 2016.09 262.83 2016.78 262.94C2017.47 263.04 2018.41 263.63 2019.09 264.26C2019.78 264.9 2020.6 265.85 2021.08 266.91C2021.56 267.97 2021.81 269.29 2022.07 270.88C2022.34 272.47 2022.47 274.61 2022.73 276.83C2023 279.05 2023.3 282.12 2023.73 284.77C2024.15 287.42 2024.74 290.94 2025.38 293.37C2026.01 295.81 2026.9 297.97 2027.69 299.99C2028.49 302 2029.49 304.03 2030.34 305.94C2031.19 307.85 2032.78 310.73 2032.99 311.89C2033.2 313.06 2032.3 313.85 2031.66 313.22C2031.03 312.58 2029.85 309.62 2029.02 307.92C2028.18 306.23 2027.22 304.54 2026.44 302.63C2025.65 300.73 2024.76 298.35 2024.12 296.02C2023.49 293.69 2022.9 290.62 2022.47 288.08C2022.03 285.54 2021.7 282.57 2021.41 280.14C2021.12 277.7 2021 274.66 2020.68 272.86C2020.36 271.06 2019.89 269.69 2019.43 268.89C2018.96 268.1 2018.14 267.79 2017.77 267.9C2017.4 268.01 2017.06 268.55 2017.11 269.55C2017.16 270.56 2017.89 272.49 2018.1 274.19C2018.31 275.88 2018.17 278.45 2018.43 280.14C2018.7 281.83 2019.49 283.08 2019.76 284.77C2020.02 286.46 2020.19 288.71 2020.09 290.72C2019.98 292.74 2019.52 295.43 2019.09 297.34C2018.67 299.25 2017.97 300.94 2017.44 302.63C2016.91 304.33 2016.16 306.34 2015.79 307.92C2015.42 309.51 2014.81 311.66 2015.13 312.56C2015.44 313.46 2016.71 313.12 2017.77 313.55C2018.83 313.97 2020.63 314.73 2021.74 315.2C2022.85 315.68 2023.92 315.89 2024.72 316.53C2025.51 317.16 2026.28 318.32 2026.7 319.17C2027.13 320.02 2027.42 320.97 2027.36 321.82C2027.31 322.66 2026.58 323.41 2026.37 324.46C2026.16 325.52 2026.36 327.85 2026.04 328.43C2025.72 329.02 2024.65 328.74 2024.39 328.1C2024.12 327.47 2024.28 325.47 2024.39 324.46C2024.49 323.46 2025.15 322.51 2025.05 321.82C2024.94 321.13 2024.47 320.43 2023.73 320.16C2022.98 319.9 2021.48 320.27 2020.42 320.16C2019.36 320.06 2018.01 319.61 2017.11 319.5C2016.21 319.4 2014.95 318.81 2014.79 319.5C2014.64 320.19 2015.64 322.37 2016.12 323.8C2016.59 325.23 2017.19 327.16 2017.77 328.43C2018.35 329.7 2019.23 330.84 2019.76 331.74C2020.29 332.64 2021.03 333.21 2021.08 334.06C2021.13 334.9 2020.51 336.13 2020.09 337.03C2019.66 337.93 2019.44 339.22 2018.43 339.68C2017.43 340.13 2014.97 339.88 2013.8 339.88C2012.64 339.88 2011.53 339.92 2011.16 339.68C2010.79 339.44 2011.06 338.73 2011.49 338.36C2011.91 337.99 2013.17 337.89 2013.8 337.36C2014.44 336.83 2015.24 335.84 2015.46 335.05C2015.67 334.25 2015.5 333.46 2015.13 332.4C2014.75 331.34 2013.88 329.7 2013.14 328.43C2012.4 327.16 2011.34 325.73 2010.49 324.46C2009.65 323.19 2008.38 321.66 2007.85 320.49C2007.32 319.33 2007.29 318.56 2007.19 317.19C2007.08 315.81 2007.08 313.59 2007.19 311.89C2007.29 310.2 2007.58 308.3 2007.85 306.6C2008.11 304.91 2008.58 302.79 2008.84 301.31C2009.11 299.83 2009.34 298.4 2009.5 297.34C2009.66 296.28 2009.99 294.69 2009.83 294.69C2009.67 294.69 2009.04 296.39 2008.51 297.34C2007.98 298.29 2007.37 299.85 2006.53 300.65C2005.68 301.44 2004.38 301.77 2003.22 302.3C2002.05 302.83 2000.52 303.53 1999.25 303.96C1997.98 304.38 1996.44 304.68 1995.28 304.95C1994.11 305.21 1992.24 305.13 1991.97 305.61C1991.71 306.09 1993.25 306.92 1993.62 307.92C1994 308.93 1994.02 310.52 1994.29 311.89C1994.55 313.27 1994.91 314.94 1995.28 316.53C1995.65 318.11 1996.18 320.12 1996.6 321.82C1997.03 323.51 1997.55 325.73 1997.92 327.11C1998.3 328.49 1998.39 329.52 1998.92 330.42C1999.45 331.32 2000.6 332.15 2001.23 332.73C2001.87 333.32 2002.57 333.37 2002.89 334.06C2003.2 334.74 2003.38 336.13 2003.22 337.03C2003.06 337.93 2002.53 339.22 2001.89 339.68C2001.26 340.13 1999.72 339.98 1999.25 339.88C1998.77 339.77 1998.71 339.42 1998.92 339.02C1999.13 338.62 2000.36 337.95 2000.57 337.36C2000.78 336.78 2000.66 335.91 2000.24 335.38C1999.82 334.85 1998.56 334.74 1997.92 334.06C1997.29 333.37 1996.8 332.3 1996.27 331.08C1995.74 329.86 1995.2 328.04 1994.62 326.45C1994.03 324.86 1993.21 322.74 1992.63 321.16C1992.05 319.57 1991.4 317.69 1990.98 316.53C1990.56 315.36 1990.57 314.73 1989.99 313.88C1989.4 313.03 1988.29 312.13 1987.34 311.23C1986.39 310.33 1985.04 308.94 1984.03 308.26C1983.03 307.57 1981.43 306.56 1981.06 306.93C1980.68 307.3 1981.66 309.35 1981.72 310.57C1981.77 311.79 1981.65 313.27 1981.39 314.54C1981.12 315.81 1980.38 317.13 1980.06 318.51C1979.75 319.89 1979.61 321.55 1979.4 323.14C1979.19 324.73 1978.95 326.95 1978.74 328.43C1978.53 329.92 1978.24 331.29 1978.08 332.4C1977.92 333.51 1977.64 334.8 1977.75 335.38C1977.85 335.96 1978.74 335.56 1978.74 336.04C1978.74 336.52 1978.17 337.74 1977.75 338.36C1977.32 338.97 1976.99 339.63 1976.09 339.88C1975.19 340.12 1972.76 340.07 1972.12 339.88C1971.49 339.69 1971.75 339.09 1972.12 338.69C1972.49 338.29 1973.86 337.95 1974.44 337.36C1975.02 336.78 1975.6 336.05 1975.76 335.05C1975.92 334.04 1975.51 332.46 1975.43 331.08C1975.36 329.7 1975.25 328.14 1975.3 326.45C1975.35 324.75 1975.64 322.29 1975.76 320.49C1975.89 318.69 1976.2 316.68 1976.09 315.2C1975.99 313.72 1975.52 312.5 1975.1 311.23C1974.68 309.96 1973.87 308.43 1973.45 307.26C1973.02 306.1 1972.72 305.12 1972.45 303.96C1972.19 302.79 1971.95 301.36 1971.79 299.99C1971.63 298.61 1971.67 296.84 1971.46 295.36C1971.25 293.87 1970.89 291.99 1970.47 290.72C1970.05 289.45 1969.35 288.16 1968.82 287.42C1968.29 286.68 1967.8 286.09 1967.16 286.09C1966.53 286.09 1965.64 286.89 1964.85 287.42C1964.05 287.95 1962.89 289.14 1962.2 289.4C1961.51 289.67 1961.05 289.39 1960.55 289.07C1960.04 288.75 1959.24 287.89 1959.03 287.42C1958.81 286.94 1959.09 286.73 1959.22 286.09Z"/>
</g>
<g fill="#4B8BB7" stroke="none">
<path d="M1959.92 388.7C1959.98 387.83 1961.6 385.12 1962.24 383.74C1962.87 382.36 1963.47 381.05 1963.89 380.1C1964.32 379.15 1964.99 378.42 1964.89 377.79C1964.78 377.15 1963.13 376.29 1963.23 376.13C1963.34 375.97 1964.7 376.85 1965.55 376.79C1966.39 376.74 1967.41 376.09 1968.52 375.8C1969.64 375.52 1971.22 375.06 1972.49 375.01C1973.76 374.95 1975.19 375.4 1976.46 375.47C1977.73 375.54 1979.16 375.68 1980.43 375.47C1981.7 375.26 1983.18 374.57 1984.4 374.15C1985.62 373.72 1987.09 373.51 1988.04 372.82C1988.99 372.14 1989.56 370.8 1990.36 369.85C1991.15 368.89 1991.84 367.72 1993 366.87C1994.17 366.02 1996.04 365.12 1997.63 364.55C1999.22 363.99 2001.23 363.6 2002.92 363.36C2004.62 363.13 2006.52 362.96 2008.22 363.1C2009.91 363.24 2011.92 363.67 2013.51 364.22C2015.1 364.77 2016.76 365.69 2018.14 366.54C2019.52 367.39 2020.95 368.4 2022.11 369.52C2023.27 370.63 2024.57 372.16 2025.42 373.49C2026.26 374.81 2027 376.25 2027.4 377.79C2027.8 379.32 2027.98 381.38 2027.93 383.08C2027.88 384.77 2027.47 386.78 2027.07 388.37C2026.67 389.96 2026 391.52 2025.42 393C2024.84 394.48 2023.96 396.15 2023.43 397.63C2022.9 399.11 2022.27 400.89 2022.11 402.26C2021.95 403.64 2022.12 405.07 2022.44 406.23C2022.76 407.4 2023.41 408.59 2024.09 409.54C2024.78 410.49 2025.89 411.34 2026.74 412.19C2027.59 413.03 2028.65 413.77 2029.39 414.83C2030.13 415.89 2030.95 417.32 2031.37 418.8C2031.8 420.28 2032.09 422.4 2032.03 424.09C2031.98 425.79 2031.68 427.8 2031.04 429.39C2030.41 430.97 2029.18 432.69 2028.06 434.02C2026.95 435.34 2025.47 436.7 2024.09 437.66C2022.72 438.61 2020.42 439.92 2019.46 439.97C2018.51 440.03 2018.25 438.62 2018.14 437.99C2018.03 437.35 2019.12 436.21 2018.8 436C2018.48 435.79 2017.11 436.45 2016.16 436.66C2015.2 436.88 2013.69 437.43 2012.85 437.33C2012 437.22 2010.76 436.58 2010.86 436C2010.97 435.42 2012.56 434.38 2013.51 433.69C2014.46 433 2015.86 432.5 2016.82 431.7C2017.77 430.91 2018.72 429.84 2019.46 428.73C2020.2 427.61 2020.97 426.03 2021.45 424.76C2021.92 423.49 2022.23 422.16 2022.44 420.79C2022.65 419.41 2022.75 417.53 2022.77 416.16C2022.79 414.78 2022.86 413.46 2022.57 412.19C2022.29 410.92 2021.39 409.59 2020.99 408.22C2020.58 406.84 2020.11 405.07 2020.06 403.59C2020.01 402.1 2020.31 400.44 2020.65 398.96C2021 397.47 2021.76 395.81 2022.24 394.32C2022.73 392.84 2023.4 391.18 2023.7 389.69C2023.99 388.21 2024.19 386.54 2024.09 385.06C2024 383.58 2023.53 381.28 2023.1 380.43C2022.68 379.58 2022.14 379.72 2021.45 379.77C2020.76 379.82 2019.65 380.39 2018.8 380.76C2017.96 381.13 2017 381.93 2016.16 382.09C2015.31 382.24 2013.62 382.18 2013.51 381.75C2013.4 381.33 2015.6 379.86 2015.49 379.44C2015.39 379.02 2013.8 379 2012.85 379.11C2011.9 379.21 2010.6 379.73 2009.54 380.1C2008.48 380.47 2007.29 380.95 2006.23 381.42C2005.17 381.9 2003.88 382.39 2002.92 383.08C2001.97 383.77 2001.02 384.88 2000.28 385.72C1999.54 386.57 1998.93 387.52 1998.29 388.37C1997.66 389.22 1996.73 389.96 1996.31 391.02C1995.89 392.08 1996.02 394.67 1995.65 394.99C1995.28 395.3 1994.42 392.9 1993.99 393C1993.57 393.11 1993.37 395.54 1993 395.65C1992.63 395.75 1992.15 393.66 1991.68 393.66C1991.2 393.66 1990.24 395.75 1990.02 395.65C1989.81 395.54 1990.51 393.69 1990.36 393C1990.2 392.31 1988.82 391.82 1989.03 391.35C1989.24 390.87 1990.94 390.5 1991.68 390.02C1992.42 389.55 1993.24 388.9 1993.66 388.37C1994.09 387.84 1994.75 387.03 1994.32 386.72C1993.9 386.4 1992.18 386.33 1991.02 386.39C1989.85 386.44 1988.32 386.73 1987.05 387.05C1985.78 387.36 1984.35 387.95 1983.08 388.37C1981.81 388.79 1979.85 389.59 1979.11 389.69C1978.37 389.8 1978.02 389.4 1978.45 389.03C1978.87 388.66 1980.8 387.82 1981.75 387.38C1982.71 386.93 1984.72 386.47 1984.4 386.25C1984.08 386.04 1981.25 385.98 1979.77 386.06C1978.29 386.13 1976.73 386.45 1975.14 386.72C1973.55 386.98 1971.43 387.34 1969.85 387.71C1968.26 388.08 1966.49 388.8 1965.22 389.03C1963.95 389.26 1962.75 389.22 1961.91 389.16C1961.06 389.11 1959.87 389.57 1959.92 388.7Z"/>
</g>
</g>
</svg>
</body></html>
